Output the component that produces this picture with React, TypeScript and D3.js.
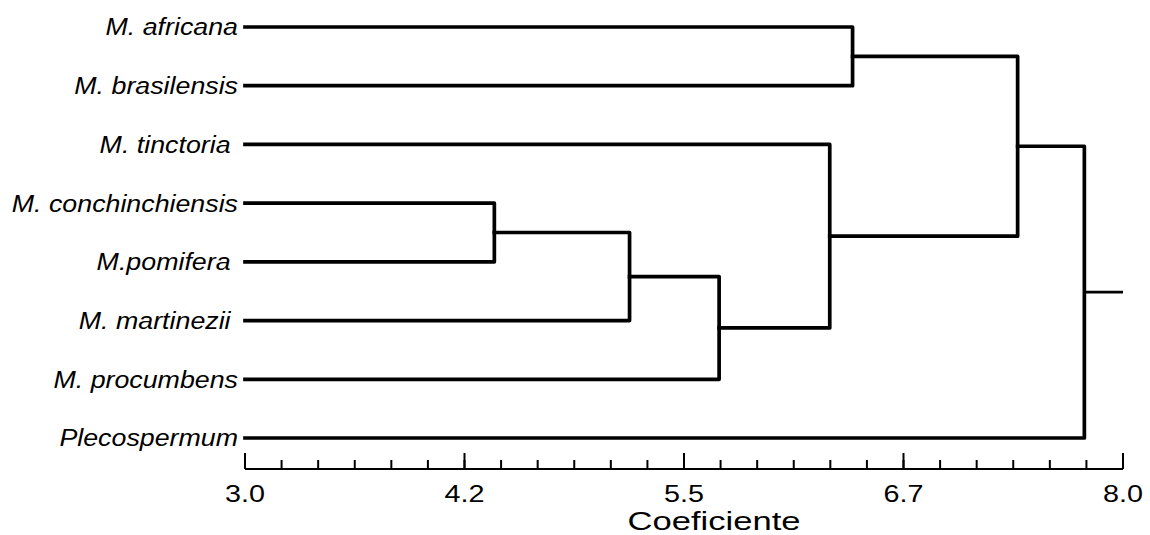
import React from "react";
import * as d3 from "d3";

// Leaves (top to bottom)
const species = [
  "M. africana",
  "M. brasilensis",
  "M. tinctoria ",
  "M. conchinchiensis",
  "M.pomifera ",
  "M. martinezii ",
  "M. procumbens",
  "Plecospermum",
];

// hclust-style merges: negative = leaf (1-based), positive = earlier merge (1-based)
const mergeLeft = [-4, 1, 2, -1, -3, 4, 6];
const mergeRight = [-5, -6, -7, -2, 3, 5, -8];
const mergeHeight = [4.42, 5.19, 5.7, 6.46, 6.33, 7.4, 7.78];

const axisMin = 3.0;
const axisMax = 8.0;
const majorTicks = [3.0, 4.25, 5.5, 6.75, 8.0];
const majorTickLabels = ["3.0", "4.2", "5.5", "6.7", "8.0"];
const minorPerMajor = 6;
const axisTitle = "Coeficiente";

const W = 1150;
const H = 535;

export default function App() {
  const x = d3.scaleLinear().domain([axisMin, axisMax]).range([245, 1123]);
  const y = d3.scalePoint<string>().domain(species).range([27, 438]);

  const nodeY: number[] = [];
  const nodeH: number[] = [];
  const childPos = (c: number) =>
    c < 0
      ? { y: y(species[-c - 1]) as number, h: axisMin }
      : { y: nodeY[c - 1], h: nodeH[c - 1] };

  const paths: string[] = [];
  mergeHeight.forEach((h, i) => {
    const a = childPos(mergeLeft[i]);
    const b = childPos(mergeRight[i]);
    const p = d3.path();
    p.moveTo(x(a.h), a.y);
    p.lineTo(x(h), a.y);
    p.lineTo(x(h), b.y);
    p.lineTo(x(b.h), b.y);
    paths.push(p.toString());
    nodeY[i] = (a.y + b.y) / 2;
    nodeH[i] = h;
  });
  const rootI = mergeHeight.length - 1;
  const rootPath = d3.path();
  rootPath.moveTo(x(nodeH[rootI]), nodeY[rootI]);
  rootPath.lineTo(x(axisMax), nodeY[rootI]);

  const step = (majorTicks[1] - majorTicks[0]) / minorPerMajor;
  const minorTicks = d3.range(0, (axisMax - axisMin) / step + 0.5).map((k) => axisMin + k * step);

  const axisY = 469;
  const font = "'Liberation Sans', Arial, Helvetica, sans-serif";

  return (
    <svg
      width={W}
      height={H}
      style={{ position: "absolute", left: 0, top: 0, background: "#fff" }}
    >
      <rect width={W} height={H} fill="#fff" />
      <g fill="none" stroke="#000" strokeWidth={3.7} strokeLinejoin="round" strokeLinecap="square">
        {paths.map((d, i) => (
          <path key={i} d={d} />
        ))}
        <path d={rootPath.toString()} strokeWidth={2.8} strokeLinecap="butt" />
      </g>

      {species.map((s) => (
        <g key={s} transform={`translate(238,${y(s)}) scale(1.14,1)`}>
          <text
            textAnchor="end"
            dy="0.36em"
            fontFamily={font}
            fontStyle="italic"
            fontSize={23.5}
            fill="#000"
            style={{ whiteSpace: "pre" }}
          >
            {s}
          </text>
        </g>
      ))}

      <g stroke="#000" strokeWidth={2}>
        <line x1={x(axisMin)} x2={x(axisMax)} y1={axisY} y2={axisY} />
        {minorTicks.map((t, i) => (
          <line key={i} x1={x(t)} x2={x(t)} y1={axisY} y2={axisY - 9} />
        ))}
        {majorTicks.map((t, i) => (
          <line key={"M" + i} x1={x(t)} x2={x(t)} y1={axisY} y2={axisY - 16} />
        ))}
      </g>
      {majorTicks.map((t, i) => (
        <g key={"L" + i} transform={`translate(${x(t)},502) scale(1.25,1)`}>
          <text textAnchor="middle" fontFamily={font} fontSize={23} fill="#000">
            {majorTickLabels[i]}
          </text>
        </g>
      ))}
      <g transform={`translate(714,530) scale(1.33,1)`}>
        <text textAnchor="middle" fontFamily={font} fontSize={26} fill="#000">
          {axisTitle}
        </text>
      </g>
    </svg>
  );
}
